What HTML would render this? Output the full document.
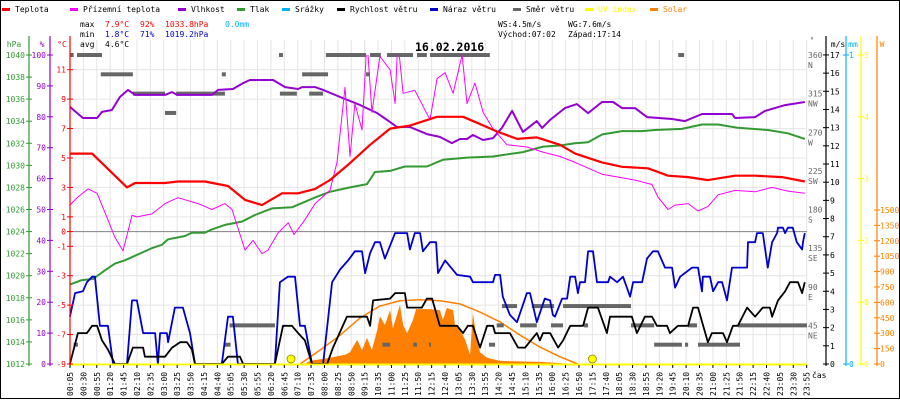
<!DOCTYPE html>
<html><head><meta charset="utf-8"><style>
html,body{margin:0;padding:0;background:#fff}
svg{display:block;font-family:"DejaVu Sans Mono","Liberation Mono",monospace;font-size:8px}
</style></head><body>
<svg id="chart" width="900" height="400" viewBox="0 0 900 400" xmlns="http://www.w3.org/2000/svg">
<rect x="0.5" y="0.5" width="899" height="398" fill="#fff" stroke="#000"/>
<defs><clipPath id="plotclip"><rect x="70" y="55" width="737" height="310"/></clipPath></defs>
<g id="grid"></g>
<g id="series"></g>
<g id="axes"></g>
<g id="legend"></g>
<g>
<text x="80" y="27">max</text>
<text x="105" y="27" fill="#ff0000">7.9°C</text>
<text x="140" y="27" fill="#ff0000">92%</text>
<text x="165" y="27" fill="#ff0000">1033.8hPa</text>
<text x="225" y="27" fill="#00b4ff">0.0mm</text>
<text x="80" y="37">min</text>
<text x="105" y="37" fill="#0000cc">1.8°C</text>
<text x="140" y="37" fill="#0000cc">71%</text>
<text x="165" y="37" fill="#0000cc">1019.2hPa</text>
<text x="80" y="47">avg</text>
<text x="105" y="47">4.6°C</text>
<text x="498" y="27">WS:4.5m/s</text>
<text x="568" y="27">WG:7.6m/s</text>
<text x="498" y="37">Východ:07:02</text>
<text x="568" y="37">Západ:17:14</text>
<text x="415" y="51" font-size="11.5" font-weight="bold">16.02.2016</text>
</g>
</svg>
<script>
// ---- data (time in chart hours, values in units) ----
const tempT=[0.08,0.8,1.93,2.19,3.16,3.58,4.45,5.2,5.75,6.3,6.95,7.47,8.02,8.5,9.15,9.8,10.45,11.09,11.97,12.81,13.26,13.91,14.56,15.2,15.95,16.44,17.31,17.96,18.8,19.45,20.1,20.74,21.62,22.27,23.14,23.88];
const tempV=[5.3,5.3,3.0,3.3,3.3,3.4,3.4,3.1,2.15,1.8,2.6,2.6,2.9,3.5,4.65,5.9,7.0,7.2,7.8,7.8,7.4,6.8,6.3,6.4,5.9,5.3,4.7,4.4,4.3,3.8,3.7,3.5,3.8,3.8,3.7,3.4];
const feelT=[0.08,0.34,0.67,0.96,1.31,1.54,1.8,2.09,2.25,2.74,3.16,3.58,4.23,4.68,5.1,5.33,5.75,6.01,6.3,6.5,6.82,7.15,7.34,7.69,8.02,8.5,8.73,8.99,9.15,9.31,9.54,9.7,9.86,10.12,10.45,10.61,10.7,10.87,11.25,11.74,11.97,12.23,12.49,12.78,12.94,13.2,13.46,13.78,14.23,14.88,15.4,15.95,16.44,17.31,18.38,18.93,19.12,19.45,19.68,20.1,20.42,20.74,21.07,21.62,22.27,22.82,23.33,23.88];
const feelV=[1.8,2.35,2.9,2.6,0.8,-0.4,-1.3,1.1,1.0,1.2,1.9,2.3,1.9,1.5,1.9,1.5,-1.25,-0.6,-1.5,-1.25,-0.1,0.6,-0.2,0.8,1.9,2.8,4.7,9.8,5.1,8.7,6.9,13,8.1,11.9,11.0,8.7,13,9.4,9.6,7.6,10.4,10.8,9.4,12.0,8.7,10.1,8.1,7.0,5.9,5.75,5.4,5.1,4.7,3.9,3.5,3.2,2.35,1.5,1.8,1.9,1.4,1.7,2.5,2.8,2.7,3.0,2.75,2.6];
const humT=[0.08,0.5,0.96,1.12,1.44,1.7,1.96,2.19,3.16,3.39,3.55,4.68,4.88,5.36,5.69,5.91,6.66,7.05,7.47,7.6,8.02,8.28,8.83,9.48,10.03,10.45,10.67,11.09,11.64,12.06,12.45,12.71,12.94,13.13,13.46,13.78,14.07,14.4,14.75,15.2,15.37,15.63,16.11,16.5,16.86,17.31,17.67,17.96,18.38,18.77,19.58,20.0,20.55,21.52,21.62,22.27,22.59,23.24,23.88];
const humV=[83.2,79.6,79.6,81.6,82.2,86.4,88.7,87.1,87.1,88.0,87.1,87.1,88.7,89.0,90.9,91.9,91.9,89.6,89.0,89.6,89.6,88.7,86.4,83.8,81.2,78.3,76.7,76.7,74.4,73.5,71.5,72.8,72.8,74.1,72.5,73.1,76.4,81.9,75.1,78.6,76.4,79.0,82.8,84.1,81.2,84.8,84.8,82.8,82.8,79.9,79.3,78.6,80.9,80.9,79.6,79.9,81.9,83.8,84.8];
const presT=[0.08,0.47,0.83,1.22,1.54,1.86,2.42,2.74,3.06,3.26,3.81,4.03,4.45,4.68,5.1,5.65,6.07,6.62,7.27,7.69,8.02,8.5,9.15,9.7,9.96,10.45,10.93,11.64,12.16,12.94,13.78,14.75,15.4,15.95,16.44,16.86,17.31,17.96,18.61,19.03,19.9,20.55,21.07,21.71,22.68,23.33,23.88];
const presV=[1019.2,1019.6,1019.7,1020.5,1021.1,1021.4,1022.1,1022.5,1022.8,1023.3,1023.6,1023.9,1023.9,1024.2,1024.6,1024.9,1025.5,1026.1,1026.2,1026.7,1027.1,1027.6,1028.0,1028.3,1029.4,1029.5,1029.9,1029.9,1030.5,1030.7,1030.8,1031.2,1031.7,1031.8,1032.0,1032.1,1032.8,1033.1,1033.1,1033.2,1033.3,1033.7,1033.7,1033.4,1033.2,1032.9,1032.4];
const gustT=[0.08,0.25,0.5,0.63,0.8,0.89,1.05,1.31,1.48,1.93,2.09,2.25,2.45,2.84,2.93,3.0,3.22,3.26,3.48,3.74,3.97,4.13,5.0,5.2,5.36,5.52,6.72,6.88,7.14,7.37,7.53,7.69,7.92,8.28,8.57,8.83,9.09,9.31,9.54,9.64,9.8,9.96,10.12,10.28,10.61,11.0,11.09,11.25,11.42,11.51,11.74,11.94,12.0,12.23,12.62,13.04,13.13,13.78,13.85,14.01,14.1,14.33,14.56,14.88,14.98,15.2,15.46,15.63,15.72,15.79,16.02,16.18,16.28,16.44,16.53,16.6,16.76,16.86,17.02,17.15,17.51,17.57,17.8,17.99,18.22,18.32,18.61,18.77,18.96,19.12,19.35,19.58,19.68,19.84,20.23,20.42,20.55,20.58,20.81,20.91,21.07,21.2,21.36,21.52,22.01,22.04,22.27,22.33,22.52,22.68,22.82,22.98,23.01,23.17,23.24,23.33,23.49,23.62,23.79,23.82,23.88];
const gustV=[2.6,3.9,4.0,4.5,4.8,4.8,2.1,2.1,0,0,3.5,3.5,1.7,1.7,0,1.7,1.7,1.2,3.1,3.1,1.7,0,0,2.6,2.6,0,0,4.5,4.8,4.8,2.1,2.1,0,0,4.5,5.2,5.7,6.2,6.2,5.0,6.1,6.7,6.7,5.8,7.2,7.2,6.3,7.2,7.2,6.2,6.7,6.7,5.0,5.7,4.9,4.8,4.5,4.5,4.9,4.9,3.7,2.7,2.3,3.9,3.9,2.3,3.6,3.5,2.7,2.6,3.6,3.6,4.8,4.8,3.9,4.5,4.5,6.2,6.2,4.5,4.5,4.8,4.5,4.8,3.7,4.5,4.5,5.8,6.2,6.2,5.3,5.3,4.2,4.8,5.3,5.3,4.0,4.8,4.8,4.0,4.5,4.5,3.5,5.3,5.3,6.7,6.7,7.2,7.2,5.3,6.7,7.2,7.5,7.5,7.2,7.5,7.5,6.7,6.3,6.7,7.2];
const windT=[0.08,0.34,0.63,0.8,0.96,1.12,1.31,1.54,1.93,2.12,2.45,2.51,3.16,3.39,3.65,3.87,4.03,4.13,5.0,5.2,5.59,5.69,6.72,6.98,7.27,7.47,7.69,7.92,8.41,8.6,9.05,9.7,9.8,9.9,10.45,10.61,10.93,11.0,11.48,11.64,11.81,12.06,12.62,12.81,12.97,13.13,13.36,13.59,13.78,13.85,14.33,14.59,14.82,15.2,15.3,15.4,15.63,15.89,16.05,16.28,16.7,16.86,17.18,17.47,17.57,18.28,18.44,18.7,18.93,19.09,19.42,19.51,19.77,20.1,20.26,20.42,20.74,20.87,21.23,21.36,21.55,21.71,22.01,22.27,22.52,22.75,22.82,23.01,23.24,23.4,23.66,23.79,23.88];
const windV=[0,1.7,1.7,2.1,2.1,1.3,0.8,0,0,0.9,0.9,0.4,0.4,0.9,1.2,1.2,0.8,0,0,0.4,0.4,0,0,2.1,2.1,1.7,1.3,0,0,0.9,2.6,2.6,2.1,3.5,3.6,3.9,3.9,3.1,3.1,3.6,3.6,2.1,2.1,1.7,2.1,2.1,0.9,2.1,2.1,1.7,1.7,0.9,0.9,1.7,1.3,1.7,1.7,0.9,1.3,2.1,2.1,3.1,3.1,1.7,2.6,2.6,1.7,2.6,2.6,2.1,2.1,1.7,2.1,2.1,3.1,3.1,1.2,1.7,1.7,1.2,2.1,2.1,3.1,2.6,3.1,3.1,2.6,3.5,4.0,4.5,4.5,3.9,4.5];
const dirStart=[0.08,0.31,6.85,8.37,9.8,10.35,11.32,11.74,19.78,1.08,5.0,7.6,8.05,9.67,2.12,3.52,4.68,6.88,7.83,3.16,14.07,15.04,16.05,5.25,13.9,14.66,15.66,16.73,18.25,20.1,21.72,0.2,5.06,10.2,11.2,11.71,13.65,19.0,20.0,20.42];
const dirEnd=[0.2,1.12,6.98,9.67,10.15,11.19,11.64,13.68,19.97,2.12,5.13,8.06,8.44,9.8,3.16,4.68,5.1,7.43,8.28,3.52,14.56,15.76,18.25,6.72,14.13,15.2,16.05,16.86,19.0,20.39,23.95,0.34,5.28,10.45,11.32,11.76,13.85,19.9,20.1,21.78];
const dirDeg=[360,360,360,360,360,360,360,360,360,337.5,337.5,337.5,337.5,337.5,315,315,315,315,315,292.5,67.5,67.5,67.5,45,45,45,45,45,45,45,45,22.5,22.5,22.5,22.5,22.5,22.5,22.5,22.5,22.5];
const solarT=[7.69,7.85,8.5,8.99,9.15,9.38,9.54,9.7,9.86,10.03,10.12,10.28,10.45,10.54,10.77,10.87,11.0,11.19,11.29,11.74,12.06,12.16,12.29,12.49,12.55,12.71,12.88,13.04,13.13,13.26,13.36,13.59,14.01,15.3,15.95,16.28];
const solarV=[0,30,60,90,115,235,135,255,135,330,465,380,525,350,575,380,300,430,535,535,525,430,545,525,380,330,235,90,495,235,115,60,30,20,10,0];
const clearT=[7.53,8.18,8.83,9.48,10.12,10.77,11.42,12.06,12.71,13.36,14.01,14.66,15.3,15.95,16.53];
const clearV=[0,135,280,450,565,615,625,615,585,505,410,280,165,70,0];
const sunMarks=[7.24,17.0];
const xLabels=["00:05","00:30","00:55","01:20","01:45","02:10","02:35","03:00","03:25","03:50","04:15","04:40","05:05","05:30","05:55","06:20","06:45","07:10","07:35","08:00","08:25","08:50","09:15","10:35","11:00","11:25","11:50","12:15","12:40","13:05","13:30","13:55","14:20","14:45","15:10","15:35","16:00","16:25","16:50","17:15","17:40","18:05","18:30","18:55","19:20","19:45","20:10","20:35","21:00","21:25","21:50","22:15","22:40","23:05","23:30","23:55"];
const hpaTicks=[1040,1038,1036,1034,1032,1030,1028,1026,1024,1022,1020,1018,1016,1014,1012];
const humTicks=[100,90,80,70,60,50,40,30,20,10,0];
const tempTicks=[11,9,7,5,3,1,0,-1,-3,-5,-7,-9];
const windTicks=[0,1,2,3,4,5,6,7,8,9,10,11,12,13,14,15,16,17];
const uvTicks=[0,1,2,3,4,5];
const solarTicks=[0,150,300,450,600,750,900,1050,1200,1350,1500];
const dirTicks=[360,315,270,225,180,135,90,45];
const dirNames=["N","NW","W","SW","S","SE","E","NE"];

// ---- scales ----
const xs=h=>70+(h-0.0833)*30.88;
const yT=v=>55+(12-v)*14.714;
const yH=v=>364-v*3.09;
const yP=v=>364-(v-1012)*11.036;
const yW=v=>364-v*18.18;
const yD=v=>364-v*0.8583;
const yS=v=>364-v*0.1027;
const yU=v=>364-v*61.8;
const xi=i=>70+i*13.394;

const NS="http://www.w3.org/2000/svg";
function mk(parent,tag,attrs){const e=document.createElementNS(NS,tag);for(const k in attrs)e.setAttribute(k,attrs[k]);parent.appendChild(e);return e;}
const grid=document.getElementById('grid'),ser=document.getElementById('series'),axes=document.getElementById('axes'),leg=document.getElementById('legend');

// grid
for(let i=0;i<xLabels.length;i++){
  const l=mk(grid,'line',{x1:xi(i),x2:xi(i),y1:40,y2:364,stroke:'#e4e4e4','stroke-width':1});
  
  
}
for(let t=11;t>=-9;t-=2){
  const l=mk(grid,'line',{x1:70,x2:807,y1:yT(t),y2:yT(t),stroke:'#e4e4e4','stroke-width':1});
  
  
}
const zl=mk(grid,'line',{x1:70,x2:807,y1:yT(0),y2:yT(0),stroke:'#808080','stroke-width':1});



function pts(T,V,fy){return T.map((t,i)=>xs(t).toFixed(1)+','+fy(V[i]).toFixed(1)).join(' ');}

// solar area
const sa=mk(ser,'polygon',{points:xs(solarT[0])+',364 '+pts(solarT,solarV,yS)+' '+xs(solarT[solarT.length-1])+',364',fill:'#ff8000'});


const cl=mk(ser,'polyline',{points:pts(clearT,clearV,yS),fill:'none',stroke:'#ff8000','stroke-width':1.5});



// direction dashes
for(let i=0;i<dirDeg.length;i++){
  const r=mk(ser,'rect',{x:xs(dirStart[i]),y:yD(dirDeg[i])-2,width:Math.max(2,xs(dirEnd[i])-xs(dirStart[i])),height:4,fill:'#666666'});
  
  
}
function line(T,V,fy,col,w,name,clip){
  const p=mk(ser,'polyline',{points:pts(T,V,fy),fill:'none',stroke:col,'stroke-width':w,'stroke-linejoin':'round'});
  if(clip)p.setAttribute('clip-path','url(#plotclip)');
  
  
}
line(presT,presV,yP,'#339933',2,'pressure-line');
line(humT,humV,yH,'#9400d3',2,'humidity-line');
line(feelT,feelV,yT,'#ff00ff',1,'apparent-temperature-line',true);
line(tempT,tempV,yT,'#ff0000',2.2,'temperature-line');
line(gustT,gustV,yW,'#0000cc',1.8,'wind-gust-line');
line(windT,windV,yW,'#000000',1.8,'wind-speed-line');

// UV baseline
const uv=mk(ser,'line',{x1:70,x2:807,y1:364.5,y2:364.5,stroke:'#ffff00','stroke-width':2});


for(const s of sunMarks){
  const c=mk(ser,'circle',{cx:xs(s),cy:359,r:4,fill:'#ffff00',stroke:'#888800','stroke-width':0.8});
  
  
}

// axes
function vaxis(x,col,name){
  const l=mk(axes,'line',{x1:x,x2:x,y1:36,y2:366,stroke:col,'stroke-width':1.2});
  
  
}
function tick(x,y,col,txt,anchor,tx){
  const t=mk(axes,'line',{x1:x-3,x2:x+3,y1:y,y2:y,stroke:col,'stroke-width':1});
  
  
  if(txt!==null){
    const e=mk(axes,'text',{x:tx,y:y+3,fill:col,'text-anchor':anchor});
    e.textContent=txt;
    
    
  }
}
function title(x,y,col,txt,anchor){
  const e=mk(axes,'text',{x:x,y:y,fill:col,'text-anchor':anchor||'middle'});
  e.textContent=txt;
  
  
}
vaxis(29,'#339933','pressure-axis');
hpaTicks.forEach((v,i)=>tick(29,yP(v),'#339933',i%1===0&&v%2===0?String(v):null,'end',25));
title(14,47,'#339933','hPa');
vaxis(50,'#9400d3','humidity-axis');
humTicks.forEach(v=>tick(50,yH(v),'#9400d3',String(v),'end',46));
title(42,47,'#9400d3','%');
vaxis(70,'#ff0000','temperature-axis');
tempTicks.forEach(v=>tick(70,yT(v),'#ff0000',String(v),'end',66));
title(62,47,'#ff0000','°C');
dirTicks.forEach((v,i)=>{
  const e=mk(axes,'text',{x:808,y:yD(v)+3,fill:'#666'});e.textContent=String(v);
  
  
  const n=mk(axes,'text',{x:808,y:yD(v)+13,fill:'#666'});n.textContent=dirNames[i];
  
  
});
title(812,43,'#666','°');
vaxis(826,'#000','wind-axis');
windTicks.forEach(v=>tick(826,yW(v),'#000',String(v),'start',830));
title(838,47,'#000','m/s');
vaxis(846,'#00b4ff','rain-axis');
tick(846,55,'#00b4ff','1','start',849);
tick(846,364,'#00b4ff','0','start',849);
title(853,47,'#00b4ff','mm');
vaxis(861,'#ffff00','uv-axis');
uvTicks.forEach(v=>tick(861,yU(v),'#ffff00',String(v),'start',864));
vaxis(877,'#ff8000','solar-axis');
solarTicks.forEach(v=>tick(877,yS(v),'#ff8000',String(v),'start',880));
title(882,47,'#ff8000','W');
const bx=mk(axes,'line',{x1:0,x2:900,y1:398.5,y2:398.5,stroke:'#000'});


xLabels.forEach((s,i)=>{
  const tk=mk(axes,'line',{x1:xi(i),x2:xi(i),y1:365,y2:368,stroke:'#000'});
  
  
  const e=mk(axes,'text',{transform:`translate(${(xi(i)+3).toFixed(1)},396) rotate(-90)`});
  e.textContent=s;
  
  
});
title(812,378,'#000','čas','start');

// legend
const legNames=["Teplota","Přízemní teplota","Vlhkost","Tlak","Srážky","Rychlost větru","Náraz větru","Směr větru","UV index","Solar"];
const legColors=["#ff0000","#ff00ff","#9400d3","#339933","#00b4ff","#000000","#0000cc","#666666","#ffff00","#ff8000"];
const legX=[2,70,178,237,282,337,430,513,585,650];
legNames.forEach((n,i)=>{
  const g=mk(leg,'g',{});
  
  
  mk(g,'rect',{x:legX[i],y:8,width:8,height:3,fill:legColors[i]});
  const t=mk(g,'text',{x:legX[i]+13,y:12,fill:(i>=8?legColors[i]:'#000')});
  t.textContent=n;
});
</script>
</body></html>
